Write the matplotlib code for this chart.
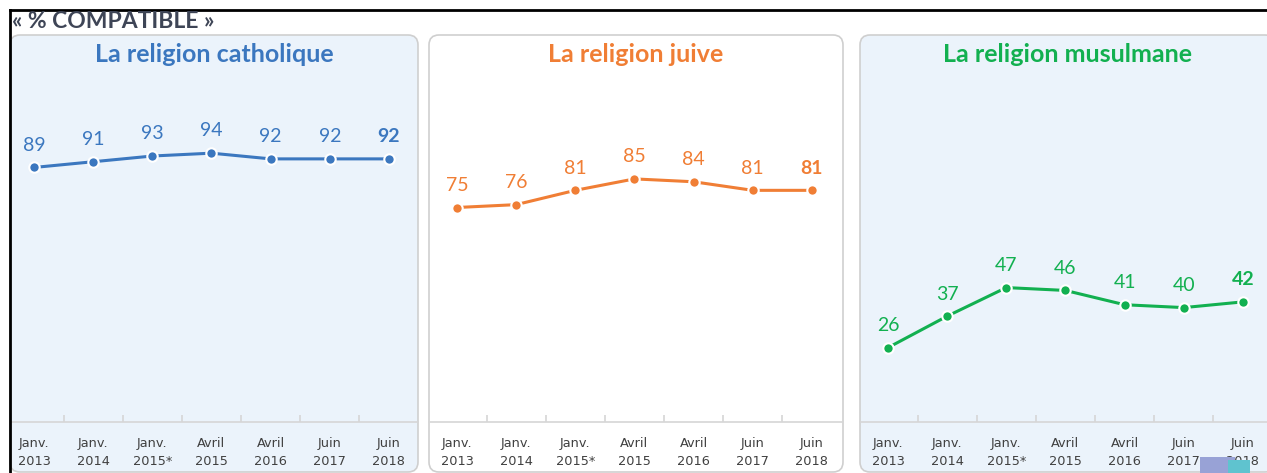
import matplotlib
matplotlib.use('Agg')
import matplotlib.pyplot as plt
from matplotlib.patches import FancyBboxPatch, Rectangle
from matplotlib.lines import Line2D

W, H = 1267, 473

dates = ['Janv.\n2013', 'Janv.\n2014', 'Janv.\n2015*', 'Avril\n2015',
         'Avril\n2016', 'Juin\n2017', 'Juin\n2018']
titles = ['La religion catholique', 'La religion juive', 'La religion musulmane']
catholique = [89, 91, 93, 94, 92, 92, 92]
juive = [75, 76, 81, 85, 84, 81, 81]
musulmane = [26, 37, 47, 46, 41, 40, 42]
colors = ['#3B77BF', '#F07E35', '#12B050']


def px_box(x0, x1, y0, y1):
    # pixel box (top-left origin) -> figure fraction rect
    return [x0 / W, 1 - y1 / H, (x1 - x0) / W, (y1 - y0) / H]


def main():
    plt.rcParams['font.family'] = ['Lato', 'DejaVu Sans']
    fig = plt.figure(figsize=(W / 100, H / 100), dpi=100)

    # panel frames (pixels): left, right, background
    panels = [(10, 418, '#EBF3FB'), (429, 843, '#FFFFFF'), (860, 1275, '#EBF3FB')]
    # axes extents: categories are ~59 px wide, centred under the points
    axes_x = [(10, 418), (429, 841.5), (860, 1272.5)]
    first_x = [34, 457, 888]
    series = [catholique, juive, musulmane]
    step = 59.15

    for (pl, pr, bg), (al, ar), x0, vals, title, col in zip(panels, axes_x, first_x,
                                                            series, titles, colors):
        box = FancyBboxPatch((pl / 100, (H - 472) / 100), (pr - pl) / 100, (472 - 35) / 100,
                             boxstyle='round,pad=0,rounding_size=0.1',
                             transform=fig.dpi_scale_trans, facecolor=bg,
                             edgecolor='#CFCFCF', linewidth=1.2, zorder=-5)
        fig.patches.append(box)

        ax = fig.add_axes(px_box(al, ar, 35, 422))
        ax.patch.set_alpha(0)
        ax.set_xlim((al - x0) / step, (ar - x0) / step)
        ax.set_ylim(0, (422 - 35) / 2.86)
        for s in ['top', 'right', 'left']:
            ax.spines[s].set_visible(False)
        ax.spines['bottom'].set_color('#D6D6D6')
        ax.spines['bottom'].set_linewidth(1.2)
        ax.set_yticks([])
        ax.set_xticks(range(7))
        ax.set_xticklabels(dates, fontsize=9.3, color='#404040',
                           family=['DejaVu Sans'], linespacing=1.45)
        ax.tick_params(axis='x', length=0, pad=11)
        ax.set_xticks([i + 0.5 for i in range(6)], minor=True)
        ax.tick_params(axis='x', which='minor', direction='in', length=5,
                       color='#D6D6D6', width=1.2)

        xs = list(range(7))
        ax.plot(xs, vals, color=col, lw=2.2, marker='o', markersize=7.5,
                markeredgecolor='white', markeredgewidth=1.5, clip_on=False)
        for i, v in enumerate(vals):
            ax.annotate(str(v), (i, v), xytext=(0, 12), textcoords='offset points',
                        ha='center', va='baseline', fontsize=14, color=col,
                        fontweight='bold' if i == 6 else 'normal')

        cx = (pl + pr) / 2 if pr <= W else (pl + W + 8) / 2
        fig.text(cx / W, 1 - 54 / H, title,
                 ha='center', va='center', fontsize=18, fontweight='bold', color=col)

    # outer frame and heading
    fig.add_artist(Line2D([10 / W, 1], [1 - 10 / H, 1 - 10 / H], color='black', lw=2,
                          transform=fig.transFigure))
    fig.add_artist(Line2D([10 / W, 10 / W], [0, 1 - 10 / H], color='black', lw=2,
                          transform=fig.transFigure))
    fig.text(12 / W, 1 - 22 / H, '\u00ab % COMPATIBLE \u00bb', ha='left', va='center',
             fontsize=16.5, fontweight='bold', color='#3E4556')

    # logo fragment in the corner
    fig.patches.append(Rectangle((1200 / W, 0), 35 / W, 16 / H, transform=fig.transFigure,
                                 facecolor='#98A2D6', edgecolor='none', zorder=5))
    fig.patches.append(Rectangle((1228 / W, 0), 22 / W, 13 / H, transform=fig.transFigure,
                                 facecolor='#5FC3CF', edgecolor='none', zorder=5))

    fig.savefig('out.png', dpi=100)


if __name__ == '__main__':
    main()
